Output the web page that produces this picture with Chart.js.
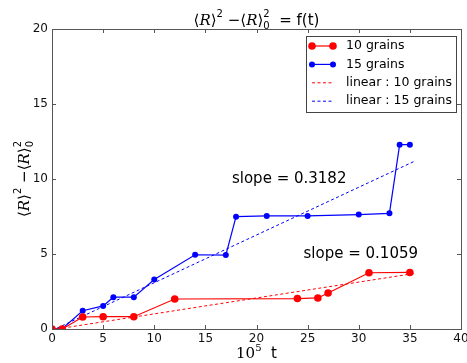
<!DOCTYPE html>
<html><head><meta charset="utf-8">
<script src="https://cdn.jsdelivr.net/npm/chart.js@4/dist/chart.umd.min.js"></script>
<style>html,body{margin:0;padding:0;background:#fff}#wrap{width:467px;height:363px}</style>
</head><body><div id="wrap"><canvas id="c" width="467" height="363"></canvas></div>
<script>
// ---- data ----
const t10 = [0, 1, 3, 5, 8, 12, 24, 26, 27, 31, 35];
const v10 = [0, 0, 0.8, 0.82, 0.82, 2.0, 2.03, 2.07, 2.4, 3.75, 3.77];
const t15 = [0, 1, 3, 5, 6, 8, 10, 14, 17, 18, 21, 25, 30, 33, 34, 35];
const v15 = [0, 0.02, 1.22, 1.54, 2.12, 2.12, 3.3, 4.95, 4.93, 7.49, 7.54, 7.54, 7.63, 7.71, 12.29, 12.29];
const fitT = [0, 35.5];
const fit10 = [-0.05, 3.71];
const fit15 = [-0.1, 11.2];
const labels = ['10 grains', '15 grains', 'linear : 10 grains', 'linear : 15 grains'];
const slopeTexts = ['slope = 0.3182', 'slope = 0.1059'];
const xTicks = [0, 5, 10, 15, 20, 25, 30, 35, 40];
const yTicks = [0, 5, 10, 15, 20];

const pts = (xs, ys) => xs.map((x, i) => ({x: x, y: ys[i]}));
const SANS = '"DejaVu Sans"';
const SERIF = '"DejaVu Serif"';

function drawRich(ctx, segs, x, y) {
  let adv = [];
  segs.forEach(s => { ctx.font = s.f; adv.push(ctx.measureText(s.t).width); });
  let cur = 0, maxStack = 0;
  segs.forEach((s, i) => { if (s.stack) { maxStack = Math.max(maxStack, adv[i]); } else { cur += Math.max(adv[i], maxStack); maxStack = 0; } });
  cur += maxStack;
  let px = x - cur / 2; maxStack = 0;
  ctx.textBaseline = 'alphabetic'; ctx.textAlign = 'left';
  segs.forEach((s, i) => {
    ctx.font = s.f;
    ctx.fillText(s.t, px, y + (s.dy || 0));
    if (s.stack) { maxStack = Math.max(maxStack, adv[i]); }
    else { px += Math.max(adv[i], maxStack); maxStack = 0; }
  });
}

function rSegs(withF) {
  const big = '15px ' + SANS, it = 'italic 15px ' + SERIF, sm = '10px ' + SANS;
  const s = [
    {t: '⟨', f: big}, {t: 'R', f: it}, {t: '⟩', f: big}, {t: '2', f: sm, dy: -8},
    {t: ' −', f: big}, {t: '⟨', f: big}, {t: 'R', f: it}, {t: '⟩', f: big},
    {t: '2', f: sm, dy: -8, stack: true}, {t: '0', f: sm, dy: 4}
  ];
  if (withF) s.push({t: '  = f(t)', f: big});
  return s;
}

const deco = {
  id: 'deco',
  afterDraw(chart) {
    const ctx = chart.ctx, a = chart.chartArea, xs = chart.scales.x, ys = chart.scales.y;
    ctx.save();
    ctx.strokeStyle = '#555'; ctx.lineWidth = 1;
    ctx.strokeRect(Math.round(a.left) + 0.5, Math.round(a.top) + 0.5, Math.round(a.right - a.left), Math.round(a.bottom - a.top));
    ctx.beginPath();
    xTicks.forEach(v => { const p = Math.round(xs.getPixelForValue(v)) + 0.5;
      ctx.moveTo(p, a.bottom); ctx.lineTo(p, a.bottom - 4); ctx.moveTo(p, a.top); ctx.lineTo(p, a.top + 4); });
    yTicks.forEach(v => { const p = Math.round(ys.getPixelForValue(v)) + 0.5;
      ctx.moveTo(a.left, p); ctx.lineTo(a.left + 4, p); ctx.moveTo(a.right, p); ctx.lineTo(a.right - 4, p); });
    ctx.stroke();
    ctx.fillStyle = '#000'; ctx.font = '15px ' + SANS; ctx.textBaseline = 'middle'; ctx.textAlign = 'left';
    ctx.fillText(slopeTexts[0], xs.getPixelForValue(17.6), ys.getPixelForValue(10));
    ctx.fillText(slopeTexts[1], xs.getPixelForValue(24.6), ys.getPixelForValue(4.97));
    drawRich(ctx, rSegs(true), (a.left + a.right) / 2, 25);
    drawRich(ctx, [{t: '10', f: '15px ' + SERIF}, {t: '5', f: '10px ' + SERIF, dy: -7}, {t: '  t', f: '15px ' + SANS}], (a.left + a.right) / 2, 358);
    ctx.save(); ctx.translate(29, (a.top + a.bottom) / 2); ctx.rotate(-Math.PI / 2);
    drawRich(ctx, rSegs(false), 0, 0);
    ctx.restore();
    const lx = 306, ly = 36, lw = 150, lh = 76;
    ctx.fillStyle = '#fff'; ctx.fillRect(lx, ly, lw, lh);
    ctx.strokeStyle = '#444'; ctx.strokeRect(lx + 0.5, ly + 0.5, lw, lh);
    chart.data.datasets.forEach((d, i) => {
      const yy = 46 + i * 18.4;
      ctx.strokeStyle = d.borderColor; ctx.lineWidth = d.borderWidth;
      ctx.setLineDash(d.borderDash || []);
      ctx.beginPath(); ctx.moveTo(312, yy); ctx.lineTo(333, yy); ctx.stroke();
      ctx.setLineDash([]);
      if (d.pointRadius > 0) {
        ctx.fillStyle = d.pointBackgroundColor;
        [312, 333].forEach(px => { ctx.beginPath(); ctx.arc(px, yy, d.pointRadius, 0, Math.PI * 2); ctx.fill(); });
      }
      ctx.fillStyle = '#000'; ctx.font = '12.5px ' + SANS; ctx.textBaseline = 'middle';
      ctx.fillText(d.label, 346, yy);
    });
    ctx.restore();
  }
};

new Chart(document.getElementById('c'), {
  type: 'line',
  data: {
    datasets: [
      {label: labels[0], data: pts(t10, v10), borderColor: '#ff0000', backgroundColor: '#ff0000', pointBackgroundColor: '#ff0000', pointBorderWidth: 0, pointRadius: 3.8, borderWidth: 1.2, clip: 0, tension: 0},
      {label: labels[1], data: pts(t15, v15), borderColor: '#0000ff', backgroundColor: '#0000ff', pointBackgroundColor: '#0000ff', pointBorderWidth: 0, pointRadius: 3, borderWidth: 1.2, clip: 0, tension: 0},
      {label: labels[2], data: pts(fitT, fit10), borderColor: '#ff0000', borderDash: [3, 2.5], borderWidth: 1, pointRadius: 0, clip: 0},
      {label: labels[3], data: pts(fitT, fit15), borderColor: '#0000ff', borderDash: [3, 2.5], borderWidth: 1, pointRadius: 0, clip: 0}
    ]
  },
  options: {
    responsive: false, animation: false, devicePixelRatio: 1,
    layout: {padding: {left: 0, right: 6, top: 29, bottom: 0}},
    plugins: {legend: {display: false}, title: {display: false}, tooltip: {enabled: false}},
    scales: {
      x: {type: 'linear', min: 0, max: 40,
        afterFit: s => { s.height = 34; s.paddingLeft = 0; s.paddingRight = 0; },
        afterBuildTicks: s => { s.ticks = xTicks.map(v => ({value: v})); },
        grid: {display: false, drawTicks: false}, border: {display: false},
        ticks: {color: '#111', padding: 3, font: {family: 'DejaVu Sans', size: 12}, maxRotation: 0}},
      y: {type: 'linear', min: 0, max: 20,
        afterFit: s => { s.width = 52; s.paddingTop = 0; s.paddingBottom = 0; },
        afterBuildTicks: s => { s.ticks = yTicks.map(v => ({value: v})); },
        grid: {display: false, drawTicks: false}, border: {display: false},
        ticks: {color: '#111', padding: 4, font: {family: 'DejaVu Sans', size: 12}}}
    }
  },
  plugins: [deco]
});
</script></body></html>
